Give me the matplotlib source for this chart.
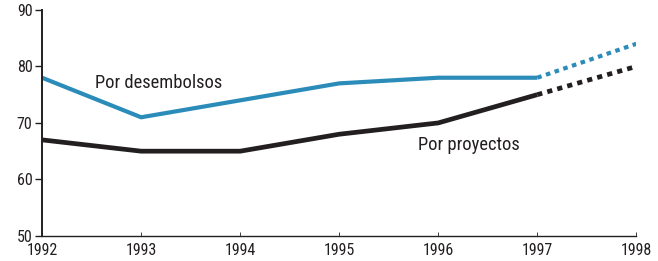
"""Porcentaje por desembolsos y por proyectos, 1992-1998."""

import matplotlib

matplotlib.use("Agg")
import matplotlib.pyplot as plt  # noqa: E402
from matplotlib import font_manager  # noqa: E402

YEARS = [1992, 1993, 1994, 1995, 1996, 1997]
YEARS_PROJ = [1997, 1998]
DESEMBOLSOS = [78, 71, 74, 77, 78, 78]
DESEMBOLSOS_PROJ = [78, 84]
PROYECTOS = [67, 65, 65, 68, 70, 75]
PROYECTOS_PROJ = [75, 80]

BLUE = "#2b8cba"
BLACK = "#231f20"

names = {f.name for f in font_manager.fontManager.ttflist}
family = "DejaVu Sans"
for candidate in ("Roboto Condensed", "Liberation Sans Narrow", "Archivo Narrow", "Sofia Sans Semi Condensed"):
    if candidate in names:
        family = candidate
        break
plt.rcParams["font.family"] = [family, "DejaVu Sans"]

fig = plt.figure(figsize=(6.58, 2.61), dpi=100)
ax = fig.add_axes([0.064, 0.096, 0.903, 0.866])

ax.plot(YEARS, DESEMBOLSOS, color=BLUE, lw=3.0, solid_capstyle="butt", solid_joinstyle="miter")
ax.plot(YEARS_PROJ, DESEMBOLSOS_PROJ, color=BLUE, lw=3.0, linestyle=(0, (1.1, 1.1)),
        dash_capstyle="butt")
ax.plot(YEARS, PROYECTOS, color=BLACK, lw=3.4, solid_capstyle="butt", solid_joinstyle="miter")
ax.plot(YEARS_PROJ, PROYECTOS_PROJ, color=BLACK, lw=3.4, linestyle=(0, (1.1, 1.1)),
        dash_capstyle="butt")

ax.text(1992.535, 77.1, "Por desembolsos", fontsize=13.3, color=BLACK, va="center", ha="left")
ax.text(1995.8, 66.1, "Por proyectos", fontsize=13.3, color=BLACK, va="center", ha="left")

ax.set_xlim(1992, 1998)
ax.set_ylim(50, 90)
ax.set_xticks([1992, 1993, 1994, 1995, 1996, 1997, 1998])
ax.set_yticks([50, 60, 70, 80, 90])

for side in ("top", "right"):
    ax.spines[side].set_visible(False)
ax.spines["left"].set_linewidth(1.4)
ax.spines["bottom"].set_linewidth(1.0)
ax.spines["left"].set_color(BLACK)
ax.spines["bottom"].set_color(BLACK)

ax.tick_params(axis="y", direction="out", length=5, width=1.0, labelsize=11.5, pad=2, colors=BLACK)
ax.tick_params(axis="x", direction="in", length=3, width=0.6, labelsize=11.5, pad=5, colors=BLACK)

fig.savefig("out.png", dpi=100)
